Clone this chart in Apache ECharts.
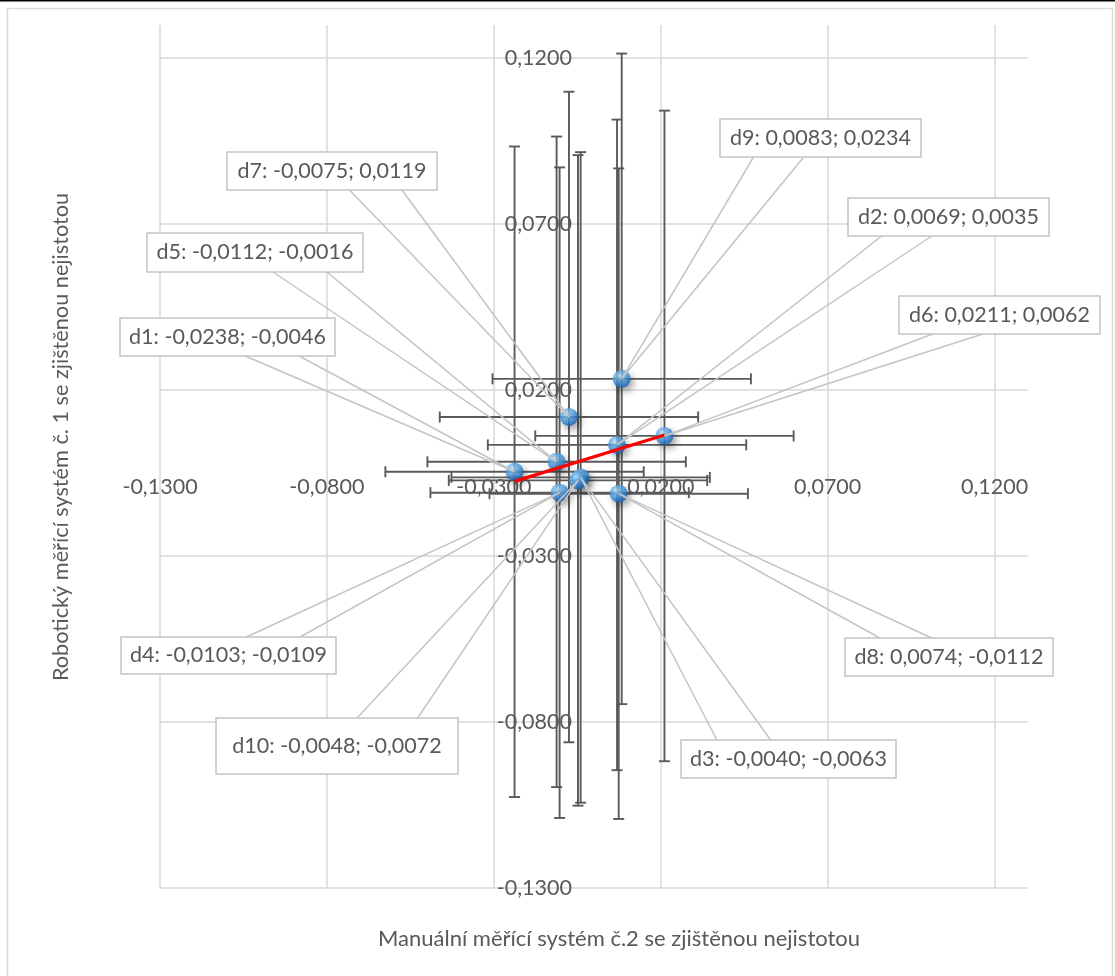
<!DOCTYPE html>
<html>
<head>
<meta charset="utf-8">
<script src="https://cdn.jsdelivr.net/npm/echarts@6/dist/echarts.min.js"></script>
<style>
html,body{margin:0;padding:0;background:#fff;}
#chart{width:1115px;height:976px;}
</style>
</head>
<body>
<div id="chart"></div>
<script>
// ---- data ----
const pointNames = ['d1','d2','d3','d4','d5','d6','d7','d8','d9','d10'];
const xValues = [-0.0238, 0.0069, -0.0040, -0.0103, -0.0112, 0.0211, -0.0075, 0.0074, 0.0083, -0.0048];
const yValues = [-0.0046, 0.0035, -0.0063, -0.0109, -0.0016, 0.0062, 0.0119, -0.0112, 0.0234, -0.0072];
const xErrors = [0.0387, 0.0387, 0.0387, 0.0387, 0.0387, 0.0387, 0.0387, 0.0387, 0.0387, 0.0387];
const yErrors = [0.098, 0.098, 0.098, 0.098, 0.098, 0.098, 0.098, 0.098, 0.098, 0.098];
const trendX = [-0.0238, 0.0211];
const trendY = [-0.0075, 0.0065];
const axisMin = -0.13;
const axisMax = 0.13;
const axisInterval = 0.05;
const xTitle = 'Manuální měřící systém č.2 se zjištěnou nejistotou';
const yTitle = 'Robotický měřící systém č. 1 se zjištěnou nejistotou';

// ---- callout box layout (pixels) ----
const calloutLayout = {
  d1:  {x:120, y:318, w:215, h:38, side:'bottom', f:[0.583,0.833]},
  d2:  {x:848, y:198, w:201, h:38, side:'bottom', f:[0.167,0.417]},
  d3:  {x:681, y:740, w:215, h:38, side:'top',    f:[0.167,0.417]},
  d4:  {x:121, y:637, w:215, h:37, side:'top',    f:[0.583,0.833]},
  d5:  {x:147, y:233, w:216, h:39, side:'bottom', f:[0.583,0.833]},
  d6:  {x:899, y:296, w:201, h:38, side:'bottom', f:[0.167,0.417]},
  d7:  {x:227, y:152, w:210, h:38, side:'bottom', f:[0.583,0.833]},
  d8:  {x:845, y:638, w:208, h:38, side:'top',    f:[0.167,0.417]},
  d9:  {x:720, y:119, w:201, h:38, side:'bottom', f:[0.167,0.417]},
  d10: {x:216, y:718, w:242, h:56, side:'top',    f:[0.583,0.833]}
};

const FONT = 'Lato';
const TEXT_COLOR = '#595959';
const fmt = v => v.toFixed(4).replace('.', ',');

const GRID = {left:160, top:25, width:868, height:863};
// where the zero lines sit inside the grid, derived from the axis range
const yAxisShift = GRID.width * (0 - axisMin) / (axisMax - axisMin);
const xAxisShift = GRID.height * (0 - axisMin) / (axisMax - axisMin);

const chart = echarts.init(document.getElementById('chart'), null, {renderer:'canvas'});

const errData = xValues.map((x, i) => [x, yValues[i], xErrors[i], yErrors[i]]);
const pointData = xValues.map((x, i) => [x, yValues[i]]);
const calloutData = xValues.map((x, i) => [x, yValues[i], i]);
const trendData = trendX.map((x, i) => [x, trendY[i]]);

const barColor = '#5a5a5a';
function errorRender(params, api) {
  const x = api.value(0), y = api.value(1), ex = api.value(2), ey = api.value(3);
  const l = api.coord([x - ex, y]);
  const r = api.coord([x + ex, y]);
  const t = api.coord([x, y + ey]);
  const b = api.coord([x, y - ey]);
  const cap = 5.5;
  const st = {stroke: barColor, lineWidth: 1.9};
  const mk = (x1, y1, x2, y2) => ({type:'line', shape:{x1, y1, x2, y2}, style: st});
  return {type:'group', children:[
    mk(l[0], l[1], r[0], r[1]),
    mk(l[0], l[1]-cap, l[0], l[1]+cap),
    mk(r[0], r[1]-cap, r[0], r[1]+cap),
    mk(t[0], t[1], b[0], b[1]),
    mk(t[0]-cap, t[1], t[0]+cap, t[1]),
    mk(b[0]-cap, b[1], b[0]+cap, b[1])
  ]};
}

function calloutRender(params, api) {
  const i = api.value(2);
  const name = pointNames[i];
  const L = calloutLayout[name];
  const p = api.coord([api.value(0), api.value(1)]);
  const by = L.side === 'bottom' ? L.y + L.h : L.y;
  const b1 = [L.x + L.w * L.f[0], by];
  const b2 = [L.x + L.w * L.f[1], by];
  const text = name + ': ' + fmt(xValues[i]) + '; ' + fmt(yValues[i]);
  return {type:'group', children:[
    {type:'polyline', shape:{points:[b1, p, b2]}, style:{stroke:'#c4c4c4', lineWidth:1.5, fill:null}},
    {type:'rect', shape:{x:L.x, y:L.y, width:L.w, height:L.h}, style:{fill:'#ffffff', stroke:'#c4c4c4', lineWidth:1.5}},
    {type:'text', style:{text:text, x:L.x + L.w/2, y:L.y + L.h/2, align:'center', verticalAlign:'middle',
      font:'21.5px ' + FONT, fill:TEXT_COLOR}}
  ]};
}

const sphere = new echarts.graphic.RadialGradient(0.38, 0.32, 0.7, [
  {offset:0, color:'#cde9fc'},
  {offset:0.3, color:'#6db5ec'},
  {offset:0.75, color:'#2f7fcf'},
  {offset:1, color:'#1d5ea6'}
]);

const axisCommon = {
  type:'value', min:axisMin, max:axisMax, interval:axisInterval,
  axisLine:{show:false, onZero:false},
  axisTick:{show:false},
  splitLine:{show:true, showMaxLine:false, lineStyle:{color:'#d9d9d9', width:1.5}},
  axisLabel:{showMaxLabel:false, formatter: v => fmt(v), color:TEXT_COLOR, fontFamily:FONT, fontSize:21.5}
};

chart.setOption({
  animation:false,
  backgroundColor:'#ffffff',
  grid:Object.assign({containLabel:false}, GRID),
  xAxis: Object.assign({}, axisCommon, {position:'bottom', offset:-xAxisShift,
    axisLabel: Object.assign({}, axisCommon.axisLabel, {margin:20})}),
  yAxis: Object.assign({}, axisCommon, {position:'left', offset:-yAxisShift,
    axisLabel: Object.assign({}, axisCommon.axisLabel, {margin:22})}),
  graphic:[
    {type:'rect', shape:{x:0, y:0, width:1115, height:1.5}, style:{fill:'#000'}, z:100},
    {type:'rect', shape:{x:7.5, y:8.5, width:1105, height:990}, style:{fill:null, stroke:'#d9d9d9', lineWidth:1.5}, z:-1},
    {type:'text', x:619, y:939, style:{text:xTitle, align:'center', verticalAlign:'middle', font:'22px ' + FONT, fill:TEXT_COLOR}},
    {type:'text', x:61, y:437, rotation:Math.PI/2, style:{text:yTitle, align:'center', verticalAlign:'middle', font:'21.7px ' + FONT, fill:TEXT_COLOR}}
  ],
  series:[
    {type:'custom', name:'errors', data:errData, renderItem:errorRender, z:2, silent:true,
      encode:{x:0, y:1}},
    {type:'scatter', name:'points', data:pointData, symbol:'circle', symbolSize:18, z:3,
      itemStyle:{color:sphere, shadowColor:'rgba(0,0,0,0.45)', shadowBlur:7, shadowOffsetX:3, shadowOffsetY:4}},
    {type:'line', name:'trend', data:trendData, symbol:'none', z:4,
      lineStyle:{color:'#ff0000', width:3.2}},
    {type:'custom', name:'callouts', data:calloutData, renderItem:calloutRender, z:5, silent:true,
      encode:{x:0, y:1}}
  ]
});
</script>
</body>
</html>
